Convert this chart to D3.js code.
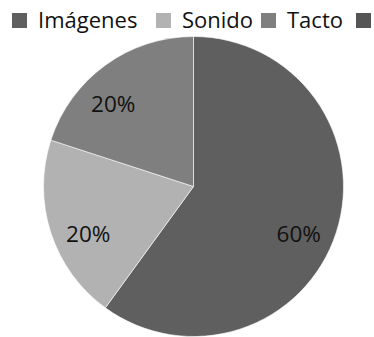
<!DOCTYPE html>
<html>
<head>
<meta charset="utf-8">
<script src="https://cdn.jsdelivr.net/npm/d3@7"></script>
<style>
html,body{margin:0;padding:0;background:#fff;overflow:hidden;}
svg{display:block;}
</style>
</head>
<body>
<svg id="chart" width="374" height="337"></svg>
<script>
const categories = ["Imágenes", "Sonido", "Tacto", ""];
const values = [60, 20, 20, 0];
const labels = ["60%", "20%", "20%", ""];
const colors = ["#5f5f5f", "#b2b2b2", "#7f7f7f", "#555555"];

const svg = d3.select("#chart");
const cx = 193.5, cy = 186.5, R = 150;
const font = "'Open Sans', 'Liberation Sans', sans-serif";

const data = categories.map((c, i) => ({name: c, value: values[i], label: labels[i], color: colors[i]}));

const pie = d3.pie().value(d => d.value).sort(null);
const arc = d3.arc().innerRadius(0).outerRadius(R);

const g = svg.append("g").attr("transform", `translate(${cx},${cy})`);
const arcs = pie(data).filter(d => d.data.value > 0);

g.selectAll("path").data(arcs).join("path")
  .attr("d", arc)
  .attr("fill", d => d.data.color)
  .attr("stroke", "#ffffff")
  .attr("stroke-width", 0.6);

// label placement (Excel-like best fit: pulled toward horizontal)
const labelR = R * 0.77;
const angleShift = [0.11, -0.11, -0.14];
g.selectAll("text").data(arcs).join("text")
  .attr("transform", (d, i) => {
    const a = (d.startAngle + d.endAngle) / 2 + angleShift[i];
    return `translate(${labelR * Math.sin(a)},${-labelR * Math.cos(a)})`;
  })
  .attr("text-anchor", "middle")
  .attr("dy", "0.36em")
  .attr("font-family", font)
  .attr("font-size", 22.5)
  .attr("fill", "#111")
  .text(d => d.data.label);

// Legend
const legendX = [12, 156, 261, 356];
const lg = svg.append("g");
const items = lg.selectAll("g").data(data).join("g")
  .attr("transform", (d, i) => `translate(${legendX[i]},13)`);
items.append("rect")
  .attr("width", 15).attr("height", 15)
  .attr("fill", d => d.color);
items.filter(d => d.name).append("text")
  .attr("x", 26).attr("y", 15)
  .attr("font-family", font)
  .attr("font-size", 22)
  .attr("fill", "#111")
  .text(d => d.name);
</script>
</body>
</html>
